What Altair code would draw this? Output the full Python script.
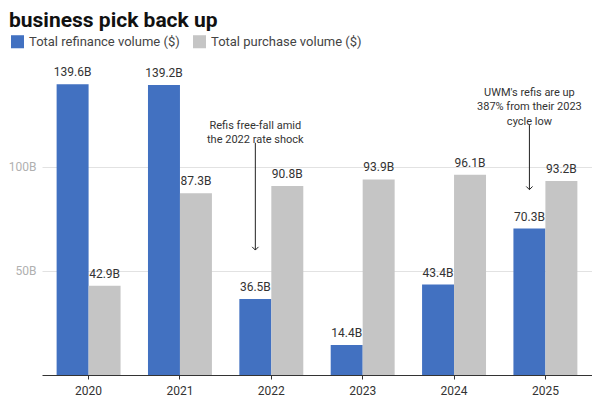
import altair as alt
import pandas as pd

title_text = "business pick back up"
years = ["2020", "2021", "2022", "2023", "2024", "2025"]
refi = [139.6, 139.2, 36.5, 14.4, 43.4, 70.3]
purchase = [42.9, 87.3, 90.8, 93.9, 96.1, 93.2]
series_names = ["Total refinance volume ($)", "Total purchase volume ($)"]
colors = ["#4271c1", "#c5c5c5"]

ann_years = ["2022", "2025"]
ann_top = [111.5, 120.0]
ann_end = [60.0, 89.0]
ann_text_y = [122.5, 138.5]
ann_text = [["Refis free-fall amid", "the 2022 rate shock"],
            ["UWM's refis are up", "387% from their 2023", "cycle low"]]

rows = []
for i, y in enumerate(years):
    rows.append({"year": y, "series": series_names[0], "value": refi[i], "label": f"{refi[i]}B"})
    rows.append({"year": y, "series": series_names[1], "value": purchase[i], "label": f"{purchase[i]}B"})
df = pd.DataFrame(rows)

ann = pd.DataFrame({
    "year": ann_years,
    "series": [series_names[0]] * 2,
    "top": ann_top,
    "end": ann_end,
    "ty": ann_text_y,
    "text": ann_text,
})

FONT = "Roboto"

x = alt.X("year:N", title=None,
          scale=alt.Scale(paddingInner=0.3, paddingOuter=0.16),
          axis=alt.Axis(labelAngle=0, labelColor="#333333", labelFontSize=12,
                        labelPadding=6, domainColor="#333333", tickColor="#333333",
                        tickSize=4, labelFont=FONT))
xo = alt.XOffset("series:N", scale=alt.Scale(domain=series_names))
yscale = alt.Scale(domain=[0, 145], nice=False)

bars = alt.Chart(df).mark_bar().encode(
    x=x, xOffset=xo,
    y=alt.Y("value:Q", title=None, scale=yscale,
            axis=alt.Axis(values=[50, 100], labelExpr="datum.value + 'B'",
                          labelColor="#b0b0b0", labelFontSize=12, domain=False,
                          ticks=False, gridColor="#e2e2e2", labelPadding=6,
                          labelFont=FONT)),
    color=alt.Color("series:N", scale=alt.Scale(domain=series_names, range=colors),
                    legend=alt.Legend(title=None, orient="none", direction="horizontal",
                                      legendX=-32, legendY=-39, symbolType="square",
                                      symbolSize=170, symbolOpacity=1,
                                      labelFontSize=13, labelColor="#444444",
                                      labelFont=FONT, columnPadding=12)),
)

labels = alt.Chart(df).mark_text(baseline="bottom", dy=-5, fontSize=12,
                                 color="#333333", font=FONT).encode(
    x="year:N", xOffset=xo, y=alt.Y("value:Q", scale=yscale), text="label:N")

rule = alt.Chart(ann).mark_rule(color="#222222", strokeWidth=1).encode(
    x="year:N", xOffset=xo, y=alt.Y("top:Q", scale=yscale), y2="end:Q")

head = alt.Chart(ann).mark_point(shape="M-1,-1L0,0L1,-1", filled=False,
                                 color="#222222", size=40, strokeWidth=1, opacity=1).encode(
    x="year:N", xOffset=xo, y=alt.Y("end:Q", scale=yscale))

atext = alt.Chart(ann).mark_text(baseline="top", fontSize=11, lineHeight=14.5,
                                 color="#333333", font=FONT).encode(
    x="year:N", xOffset=xo, y=alt.Y("ty:Q", scale=yscale), text="text")

title = alt.Chart(pd.DataFrame({"t": [title_text]})).mark_text(
    align="left", baseline="alphabetic", fontSize=21, fontWeight="bold",
    font=FONT, color="#111111").encode(
    text="t:N", x=alt.value(-33), y=alt.value(-46))

chart = alt.layer(bars, labels, rule, head, atext, title).properties(
    width=550, height=302,
    autosize=alt.AutoSizeParams(type="none"),
    padding={"left": 34, "top": 65, "right": 0, "bottom": 30},
).configure_view(stroke=None)

chart.save("out.html", embed_options={"renderer": "svg", "actions": False})
